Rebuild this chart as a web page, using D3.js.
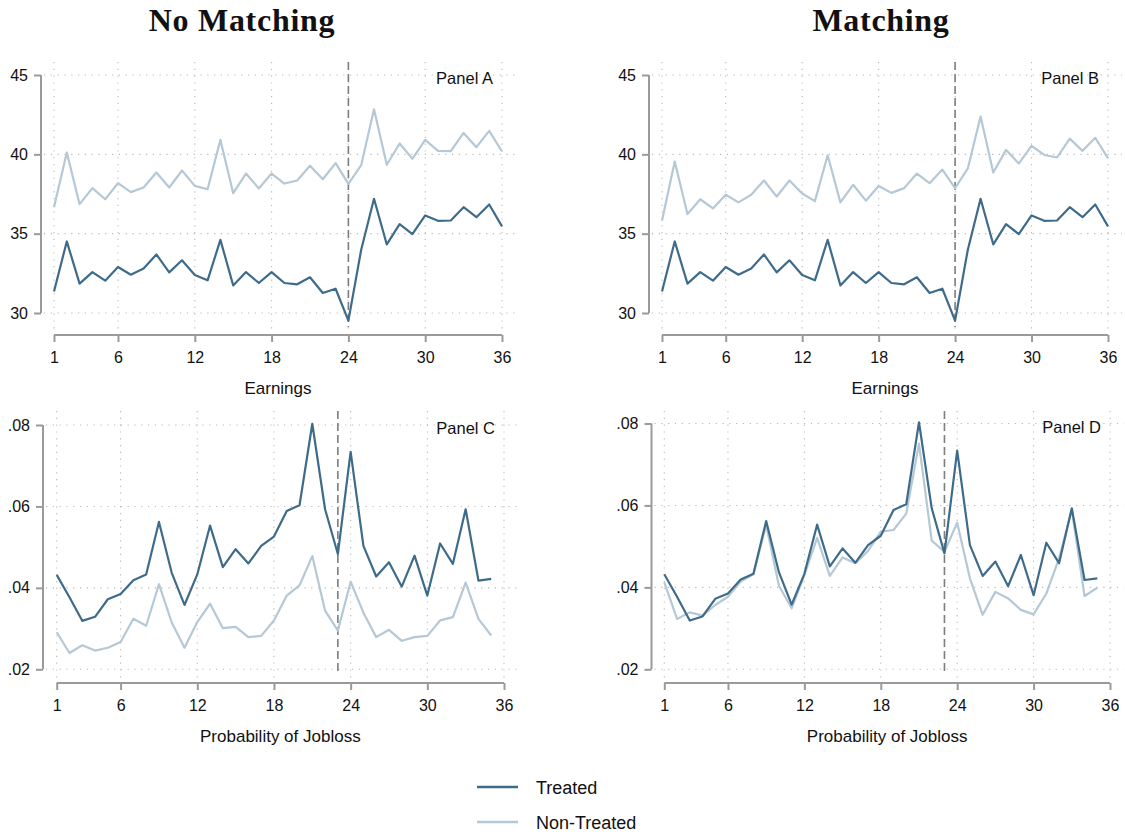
<!DOCTYPE html>
<html>
<head>
<meta charset="utf-8">
<script src="https://cdn.jsdelivr.net/npm/d3@7"></script>
<style>
  html, body { margin: 0; padding: 0; background: #fff; }
  svg { display: block; }
</style>
</head>
<body>
<svg id="chart" width="1125" height="839"></svg>
<script>
// Months relative to the event (x axis)
const monthsEarn = d3.range(1, 37);   // 1..36
const monthsJob = d3.range(1, 36);    // 1..35
const xTicks = [1, 6, 12, 18, 24, 30, 36];

// Earnings: treated group (same in both columns)
const earnTreated = [31.36, 34.51, 31.85, 32.58, 32.04, 32.90, 32.41, 32.80, 33.69, 32.56,
  33.32, 32.39, 32.06, 34.61, 31.74, 32.58, 31.89, 32.58, 31.89, 31.81,
  32.25, 31.26, 31.53, 29.52, 33.99, 37.20, 34.32, 35.60, 34.97, 36.15,
  35.81, 35.83, 36.67, 36.04, 36.84, 35.46];
// Earnings: non-treated, no matching
const earnControlRaw = [36.67, 40.11, 36.86, 37.87, 37.17, 38.18, 37.62, 37.91, 38.85, 37.91,
  38.98, 38.01, 37.80, 40.91, 37.55, 38.79, 37.85, 38.79, 38.16, 38.35,
  39.28, 38.43, 39.45, 38.14, 39.32, 42.84, 39.34, 40.68, 39.72, 40.91,
  40.22, 40.20, 41.35, 40.45, 41.48, 40.18];
// Earnings: non-treated, matched
const earnControlMatched = [35.81, 39.55, 36.23, 37.17, 36.59, 37.45, 36.97, 37.45, 38.35, 37.34,
  38.35, 37.53, 37.05, 39.94, 36.97, 38.08, 37.08, 38.00, 37.57, 37.87,
  38.79, 38.18, 39.04, 37.87, 39.11, 42.38, 38.85, 40.28, 39.42, 40.53,
  39.96, 39.80, 40.99, 40.22, 41.04, 39.76];

// Probability of job loss: treated group
const jobTreated = [0.0432, 0.0377, 0.0319, 0.0329, 0.0372, 0.0385, 0.0419, 0.0433, 0.0562, 0.0437,
  0.0358, 0.0433, 0.0553, 0.0451, 0.0495, 0.0460, 0.0503, 0.0526, 0.0589, 0.0603,
  0.0803, 0.0593, 0.0483, 0.0734, 0.0503, 0.0428, 0.0463, 0.0403, 0.0479, 0.0381,
  0.0509, 0.0459, 0.0593, 0.0418, 0.0422];
// Probability of job loss: non-treated, no matching
const jobControlRaw = [0.0291, 0.0240, 0.0259, 0.0246, 0.0253, 0.0267, 0.0324, 0.0307, 0.0409, 0.0315,
  0.0253, 0.0316, 0.0361, 0.0301, 0.0304, 0.0279, 0.0282, 0.0320, 0.0381, 0.0406,
  0.0478, 0.0344, 0.0295, 0.0415, 0.0339, 0.0279, 0.0297, 0.0270, 0.0279, 0.0282,
  0.0320, 0.0328, 0.0413, 0.0324, 0.0283];
// Probability of job loss: non-treated, matched
const jobControlMatched = [0.0412, 0.0323, 0.0339, 0.0331, 0.0357, 0.0377, 0.0414, 0.0432, 0.0552, 0.0404,
  0.0349, 0.0430, 0.0521, 0.0428, 0.0473, 0.0459, 0.0489, 0.0536, 0.0540, 0.0580,
  0.0751, 0.0514, 0.0487, 0.0558, 0.0422, 0.0333, 0.0389, 0.0373, 0.0345, 0.0334,
  0.0385, 0.0471, 0.0589, 0.0379, 0.0399];

const earnTicks = [30, 35, 40, 45];
const jobTicks = [0.02, 0.04, 0.06, 0.08];

const colTitles = ["No Matching", "Matching"];
const seriesNames = ["Treated", "Non-Treated"];

const COL_TREATED = "#3f6b8b";
const COL_CONTROL = "#b5c8d5";
const AXIS_COL = "#9a9a9a";
const GRID_COL = "#b9b9b9";
const SANS = "'Liberation Sans', Arial, Helvetica, sans-serif";

const svg = d3.select("#chart");

const fmtEarn = d => String(d);
const fmtJob = d => d3.format(".2f")(d).replace(/^0/, "");

const panels = [
  { label: "Panel A", months: monthsEarn, treated: earnTreated, control: earnControlRaw,
    yDomain: [30, 45], yTicks: earnTicks, fmt: fmtEarn, event: 24, title: "Earnings",
    axisX: 41, xr: [54, 502], yr: [313, 75], gridTop: 62, xAxisY: 335 },
  { label: "Panel B", months: monthsEarn, treated: earnTreated, control: earnControlMatched,
    yDomain: [30, 45], yTicks: earnTicks, fmt: fmtEarn, event: 24, title: "Earnings",
    axisX: 649, xr: [662, 1108], yr: [313, 75], gridTop: 62, xAxisY: 335 },
  { label: "Panel C", months: monthsJob, treated: jobTreated, control: jobControlRaw,
    yDomain: [0.02, 0.08], yTicks: jobTicks, fmt: fmtJob, event: 23, title: "Probability of Jobloss",
    axisX: 43, xr: [56.7, 504], yr: [669.3, 425], gridTop: 411, xAxisY: 683 },
  { label: "Panel D", months: monthsJob, treated: jobTreated, control: jobControlMatched,
    yDomain: [0.02, 0.08], yTicks: jobTicks, fmt: fmtJob, event: 23, title: "Probability of Jobloss",
    axisX: 651.5, xr: [664.3, 1110], yr: [669.3, 423.5], gridTop: 411, xAxisY: 683 }
];

panels.forEach(p => {
  const g = svg.append("g");
  const x = d3.scaleLinear().domain([1, 36]).range(p.xr);
  const y = d3.scaleLinear().domain(p.yDomain).range(p.yr);
  const gridLeft = p.axisX + 3, gridRight = p.xr[1] + 14, gridBottom = p.xAxisY - 5;

  // dotted grid
  g.selectAll(".hgrid").data(p.yTicks).join("line")
    .attr("x1", gridLeft).attr("x2", gridRight)
    .attr("y1", d => y(d)).attr("y2", d => y(d))
    .attr("stroke", GRID_COL).attr("stroke-width", 1.1)
    .attr("stroke-dasharray", "1.2,5.6");
  g.selectAll(".vgrid").data(xTicks).join("line")
    .attr("x1", d => x(d)).attr("x2", d => x(d))
    .attr("y1", p.gridTop).attr("y2", gridBottom)
    .attr("stroke", GRID_COL).attr("stroke-width", 1.1)
    .attr("stroke-dasharray", "1.2,5.6");

  // y axis
  const yAxis = d3.axisLeft(y).tickValues(p.yTicks).tickFormat(p.fmt).tickSize(7).tickPadding(6);
  const ya = g.append("g").attr("transform", `translate(${p.axisX},0)`).call(yAxis);
  // x axis
  const xAxis = d3.axisBottom(x).tickValues(xTicks).tickFormat(d => d).tickSize(7).tickPadding(10);
  const xa = g.append("g").attr("transform", `translate(0,${p.xAxisY})`).call(xAxis);
  [ya, xa].forEach(a => {
    a.select(".domain").attr("stroke", AXIS_COL).attr("stroke-width", 2)
      .attr("d", a === ya
        ? `M0,${y(p.yDomain[0])}V${y(p.yDomain[1])}`
        : `M${x(1)},0H${x(36)}`);
    a.selectAll(".tick line").attr("stroke", AXIS_COL).attr("stroke-width", 2);
    a.selectAll(".tick text").attr("fill", "#111").style("font-family", SANS).style("font-size", "16px");
  });

  // event line
  g.append("line")
    .attr("x1", x(p.event)).attr("x2", x(p.event))
    .attr("y1", p.gridTop).attr("y2", p.xAxisY - 8)
    .attr("stroke", "#7d7d7d").attr("stroke-width", 1.6)
    .attr("stroke-dasharray", "8,4");

  const line = d3.line().x((d, i) => x(p.months[i])).y(d => y(d));
  g.append("path").datum(p.control).attr("d", line)
    .attr("fill", "none").attr("stroke", COL_CONTROL).attr("stroke-width", 2.2)
    .attr("stroke-linejoin", "round");
  g.append("path").datum(p.treated).attr("d", line)
    .attr("fill", "none").attr("stroke", COL_TREATED).attr("stroke-width", 2.2)
    .attr("stroke-linejoin", "round");

  // panel label
  g.append("text").attr("x", p.xr[1] - 9).attr("y", p.yr[1] + 9)
    .attr("text-anchor", "end").attr("fill", "#111")
    .style("font-family", SANS).style("font-size", "16.5px")
    .text(p.label);

  // axis title
  g.append("text").attr("x", (p.xr[0] + p.xr[1]) / 2).attr("y", p.xAxisY + 59)
    .attr("text-anchor", "middle").attr("fill", "#111")
    .style("font-family", SANS).style("font-size", "17px")
    .text(p.title);
});

// column titles
svg.selectAll(".coltitle").data(colTitles).join("text")
  .attr("x", (d, i) => [242, 881][i]).attr("y", 31)
  .attr("text-anchor", "middle").attr("fill", "#111")
  .style("font-family", "'Liberation Serif', 'Times New Roman', serif")
  .style("font-weight", "bold").style("font-size", "32px").style("letter-spacing", "0.7px")
  .text(d => d);

// legend
const legend = svg.append("g");
const legColors = [COL_TREATED, COL_CONTROL];
const legY = d3.scalePoint().domain(seriesNames).range([787, 822]);
legend.selectAll("line").data(seriesNames).join("line")
  .attr("x1", 477).attr("x2", 518)
  .attr("y1", d => legY(d)).attr("y2", d => legY(d))
  .attr("stroke", (d, i) => legColors[i]).attr("stroke-width", 2.4);
legend.selectAll("text").data(seriesNames).join("text")
  .attr("x", 536).attr("y", d => legY(d) + 6.5)
  .attr("fill", "#111")
  .style("font-family", SANS).style("font-size", "18px")
  .text(d => d);
</script>
</body>
</html>
